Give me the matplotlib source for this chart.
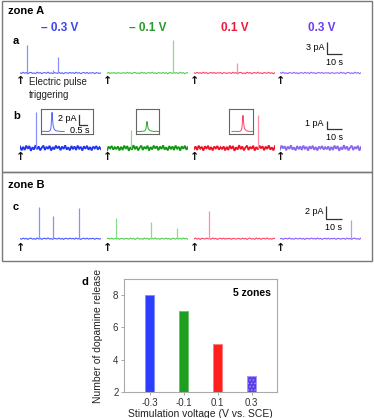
import matplotlib
matplotlib.use("Agg")
import matplotlib.pyplot as plt
import numpy as np
from matplotlib.patches import Rectangle

plt.rcParams['font.family'] = ['Liberation Sans', 'DejaVu Sans']
plt.rcParams['hatch.linewidth'] = 0.6

W, H = 374, 418

# ---- data -------------------------------------------------------------
voltages = ['\u2013 0.3 V', '\u2013 0.1 V', '0.1 V', '0.3 V']
volt_colors = ['#3a46ee', '#2a9a2a', '#ee1a3a', '#6a3ff0']

# trace colours per row
colors_a = ['#5a66ff', '#55cc55', '#ff4466', '#9066ff']
colors_b = ['#2233ee', '#129612', '#ee1126', '#8a66ee']
colors_c = ['#4a58ff', '#55cc55', '#ff4466', '#8a5cff']
spike_colors = ['#8890ff', '#88dd88', '#ff8fa8', '#b69aff']

# baseline wiggle (pA), one list per row
noise_a = [0.05, -0.12, 0.18, -0.05, 0.1, -0.2, 0.08, 0.15, -0.1, 0.02, -0.15, 0.2, -0.05,
           0.12, -0.18, 0.06, 0.1, -0.08, 0.22, -0.1, 0.04, -0.16, 0.12, 0.0, -0.06, 0.18,
           -0.12, 0.08, -0.2, 0.1, 0.05, -0.1, 0.16, -0.04, 0.08, -0.14, 0.2, -0.06, 0.1,
           -0.18, 0.04, 0.12, -0.08, 0.15, -0.12, 0.06, -0.02, 0.1, -0.16, 0.08, 0.02, -0.1, 0.05]
noise_b = [0.2, -0.3, 0.15, -0.25, 0.3, -0.1, 0.25, -0.35, 0.1, -0.2, 0.35, -0.15, 0.2,
           -0.3, 0.05, 0.3, -0.25, 0.15, -0.1, 0.28, -0.32, 0.12, -0.18, 0.3, -0.05, 0.22,
           -0.28, 0.18, -0.12, 0.33, -0.2, 0.08, -0.3, 0.25, -0.15, 0.2, -0.25, 0.3, -0.08,
           0.15, -0.32, 0.22, -0.1, 0.28, -0.22, 0.12, -0.3, 0.18, -0.05, 0.25, -0.2, 0.1, -0.15]
noise_c = [0.03, -0.08, 0.1, -0.04, 0.06, -0.12, 0.05, 0.09, -0.06, 0.02, -0.1, 0.12, -0.03,
           0.07, -0.11, 0.04, 0.06, -0.05, 0.13, -0.06, 0.02, -0.09, 0.07, 0.0, -0.04, 0.11,
           -0.07, 0.05, -0.12, 0.06, 0.03, -0.06, 0.1, -0.02, 0.05, -0.08, 0.12, -0.04, 0.06,
           -0.11, 0.02, 0.07, -0.05, 0.09, -0.07, 0.04, -0.01, 0.06, -0.1, 0.05, 0.01, -0.06, 0.03]

# spikes: (time s, amplitude pA) per voltage
spikes_a = [[(4.5, 7.0), (21.0, 0.8), (24.4, 4.0)], [(42.3, 8.2)], [(27.6, 2.5)], []]
spikes_b = [[(10.3, 4.5)], [(15.4, 2.25)], [(41.0, 4.1)], []]
spikes_c = [[(12.2, 5.1), (21.2, 3.6), (37.8, 4.9)],
            [(5.8, 3.3), (28.2, 2.7), (44.9, 1.7)],
            [(9.6, 4.4)],
            [(45.5, 3.0)]]

# inset single-event traces (s, pA)
inset_t = [0.0, 0.2, 0.4, 0.55, 0.62, 0.66, 0.69, 0.72, 0.76, 0.82, 0.9, 1.0, 1.15, 1.3, 1.45]
inset_blue = [0.0, 0.05, 0.0, 0.1, 0.6, 2.5, 3.8, 2.6, 1.2, 0.5, 0.2, 0.1, 0.05, 0.0, 0.02]
inset_green = [0.02, -0.03, 0.05, 0.1, 0.5, 1.4, 2.0, 1.3, 0.6, 0.3, 0.15, 0.08, 0.0, 0.05, -0.02]
inset_red = [0.0, 0.04, -0.02, 0.1, 0.7, 2.2, 3.2, 2.1, 0.9, 0.4, 0.15, 0.05, 0.02, 0.0, 0.03]

# bar chart
bar_labels = ['-0.3', '-0.1', '0.1', '0.3']
bar_counts = [8, 7, 5, 3]
bar_colors = ['#2b3dff', '#1e9e1e', '#ff1f1f', '#5a3fe8']


# ---- helpers ----------------------------------------------------------
def box(x, y, w, h):
    return [x / W, 1 - (y + h) / H, w / W, h / H]


def ftext(x, y, s, **kw):
    fig.text(x / W, 1 - y / H, s, **kw)


fig = plt.figure(figsize=(W / 100, H / 100), dpi=100)

# zone frames
for (y0, y1) in [(1.5, 172), (172, 261)]:
    fig.patches.append(Rectangle((2 / W, 1 - y1 / H), 369.5 / W, (y1 - y0) / H,
                                 transform=fig.transFigure, fill=False,
                                 edgecolor='#7a7a7a', lw=1.0))

ftext(8, 11.5, 'zone A', fontsize=8, fontweight='bold', va='center')
ftext(8, 185, 'zone B', fontsize=8, fontweight='bold', va='center')
for xc, lab, c in zip([60, 148, 235, 322], voltages, volt_colors):
    ftext(xc, 28, lab, fontsize=8.5, fontweight='bold', color=c, ha='center', va='center')

ftext(13, 41.5, 'a', fontsize=8, fontweight='bold', va='center')
ftext(13, 116, 'b', fontsize=8, fontweight='bold', va='center')
ftext(13, 207, 'c', fontsize=8, fontweight='bold', va='center')
ftext(82, 282, 'd', fontsize=8, fontweight='bold', va='center')
ftext(29, 88.5, 'Electric pulse\ntriggering', fontsize=7, va='center', color='#222222',
      linespacing=1.3)

x_starts = [20, 107, 194, 280]
T_END = 52.0
TRACE_W = 81


def draw_row(y_top, h, ylim, noise, spikes, colors, lw, arrow_y, shifts):
    axes = []
    t = np.linspace(0, T_END, len(noise))
    for i, x0 in enumerate(x_starts):
        ax = fig.add_axes(box(x0, y_top, TRACE_W, h))
        ax.set_xlim(0, T_END)
        ax.set_ylim(*ylim)
        ax.set_axis_off()
        ax.plot(t, np.roll(noise, shifts[i]), color=colors[i], lw=lw, solid_joinstyle='miter')
        for st, amp in spikes[i]:
            ax.vlines(st, 0, amp, color=spike_colors[i], lw=0.9)
        ax.text(0.6, arrow_y, '\u2191', fontsize=8, ha='center', va='center',
                clip_on=False, color='#111111', fontweight='bold',
                family=['DejaVu Sans'])
        axes.append(ax)
    return axes


def scale_bar(ax, t0, y0, dy, ylab, ylab_xy, xlab_xy, fs=6.5):
    ax.plot([t0, t0, t0 + 10], [y0 + dy, y0, y0], color='#333333', lw=0.9,
            clip_on=False, solid_capstyle='butt')
    ax.text(*ylab_xy, ylab, fontsize=fs, ha='right', va='center', clip_on=False)
    ax.text(*xlab_xy, '10 s', fontsize=fs, ha='center', va='center', clip_on=False)


# row a: baseline y=73, 4 px/pA
row_a = draw_row(37, 42, (-1.5, 9.0), noise_a, spikes_a, colors_a, 0.8, -2.0, [0, 11, 23, 37])
scale_bar(row_a[3], 30, 4.75, 3, '3 pA', (28.5, 6.4), (35.3, 2.7))

# row b: baseline y=148, 8 px/pA
row_b = draw_row(108, 48, (-1.0, 5.0), noise_b, spikes_b, colors_b, 1.3, -1.15, [0, 7, 19, 31])
scale_bar(row_b[3], 30, 2.4, 1, '1 pA', (28.0, 3.0), (35.3, 1.25))

# row c: baseline y=239, 6.3 px/pA
row_c = draw_row(201, 44, (-1.0, 6.0), noise_c, spikes_c, colors_c, 0.8, -1.45, [0, 13, 29, 41])
scale_bar(row_c[3], 29.5, 3.2, 2, '2 pA', (28.0, 4.4), (34.5, 1.75))

# insets in row b
inset_specs = [
    (41, 52, (0, 3.25), inset_blue, '#5566ff'),
    (136, 23, (0, 1.44), inset_green, '#33aa33'),
    (229, 24, (-0.185, 1.315), inset_red, '#ff4466'),
]
for x0, w, xl, y, c in inset_specs:
    ax = fig.add_axes(box(x0, 109, w, 25))
    ax.set_xlim(*xl)
    ax.set_ylim(-0.5, 4.5)
    ax.set_xticks([])
    ax.set_yticks([])
    ax.set_facecolor('white')
    for s in ax.spines.values():
        s.set_color('#666666')
        s.set_linewidth(0.8)
    ax.plot(inset_t, y, color=c, lw=0.7)
    if x0 == 41:
        ax.plot([2.375, 2.375, 2.875], [3.3, 1.3, 1.3], color='#333333', lw=0.9)
        ax.text(2.25, 2.6, '2 pA', fontsize=6.5, ha='right', va='center')
        ax.text(2.45, 0.2, '0.5 s', fontsize=6.5, ha='center', va='center')

# ---- panel d ------------------------------------------------------------
axd = fig.add_axes(box(124, 279, 153, 113))
xpos = np.arange(len(bar_counts))
bars = axd.bar(xpos, bar_counts, width=0.25, color=bar_colors,
               edgecolor=['#7f8aff', '#66c266', '#ff7a7a', '#a596ff'], lw=0.6)
bars[3].set_hatch('.....')
axd.set_xlim(-0.75, 3.75)
axd.set_ylim(2, 9)
axd.set_yticks([2, 4, 6, 8])
axd.set_xticks(xpos)
axd.set_xticklabels(bar_labels)
axd.tick_params(labelsize=7, length=2.5, width=0.6, color='#999999', pad=1.5,
                labelcolor='#333333')
for s in axd.spines.values():
    s.set_color('#aaaaaa')
    s.set_linewidth(0.8)
axd.set_ylabel('Number of dopamine release', fontsize=7.5, labelpad=7, color='#222222')
axd.set_xlabel('Stimulation voltage (V vs. SCE)', fontsize=7.5, labelpad=1, color='#222222')
axd.text(0.96, 0.88, '5 zones', transform=axd.transAxes, fontsize=7.5,
         fontweight='bold', ha='right', va='center')

fig.savefig('out.png', dpi=100)
